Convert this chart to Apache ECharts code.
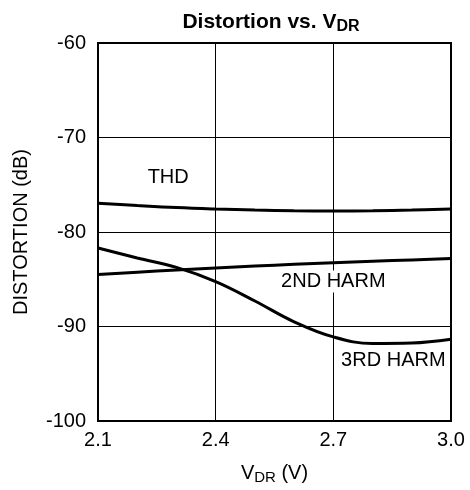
<!DOCTYPE html>
<html><head><meta charset="utf-8">
<script src="https://cdn.jsdelivr.net/npm/echarts@6/dist/echarts.min.js"></script>
<style>html,body{margin:0;padding:0;background:#fff}#c{width:470px;height:490px}</style>
</head><body><div id="c"></div>
<script>
const xValues = [2.1, 2.2, 2.3, 2.4, 2.5, 2.6, 2.7, 2.8, 2.9, 3.0];
const thd = [-76.95, -77.2, -77.42, -77.57, -77.68, -77.75, -77.78, -77.75, -77.68, -77.57];
const harm2 = [-84.5, -84.25, -84.02, -83.8, -83.6, -83.42, -83.25, -83.1, -82.95, -82.8];
const harm3 = [-81.7, -82.75, -83.75, -85.25, -87.3, -89.5, -91.1, -91.8, -91.75, -91.35];
const curveLabels = [
  {text: 'THD', x: 2.279, y: -74.25},
  {text: '2ND HARM', x: 2.7, y: -85.25},
  {text: '3RD HARM', x: 2.853, y: -93.55}
];
const xTicks = [2.1, 2.4, 2.7, 3.0];
const yTicks = [-100, -90, -80, -70, -60];

const font = 'Liberation Sans, Arial, sans-serif';
const pair = arr => xValues.map((x, i) => [x, arr[i]]);
const lineSeries = arr => ({
  type: 'line', data: pair(arr), smooth: 0.4, symbol: 'none',
  lineStyle: {color: '#000', width: 3}, z: 3
});

const chart = echarts.init(document.getElementById('c'), null, {renderer: 'canvas'});
chart.setOption({
  animation: false,
  title: {
    text: 'Distortion vs. V{sub|DR}',
    left: 266, top: 5, textAlign: 'center',
    textStyle: {
      fontFamily: font, fontSize: 21, fontWeight: 'bold', color: '#000',
      rich: {sub: {fontFamily: font, fontSize: 16, fontWeight: 'bold', color: '#000', padding: [9, 0, 0, 0]}}
    }
  },
  grid: {left: 98, right: 19, top: 43, bottom: 69, show: true, borderColor: '#000', borderWidth: 2},
  xAxis: {
    type: 'value', min: 2.1, max: 3.0, interval: 0.3,
    name: 'V{sub|DR} (V)', nameLocation: 'middle', nameGap: 40,
    nameTextStyle: {fontFamily: font, fontSize: 20, color: '#000', verticalAlign: 'top',
      rich: {sub: {fontFamily: font, fontSize: 15, color: '#000', padding: [9, 0, 0, 0]}}},
    axisLine: {show: false}, axisTick: {show: false},
    axisLabel: {fontFamily: font, fontSize: 20, color: '#000', margin: 9,
      formatter: v => xTicks.find(t => Math.abs(t - v) < 1e-6)?.toFixed(1) ?? ''},
    splitLine: {show: true, lineStyle: {color: '#000', width: 1}}
  },
  yAxis: {
    type: 'value', min: -100, max: -60, interval: 10,
    name: 'DISTORTION (dB)', nameLocation: 'middle', nameGap: 67, nameRotate: 90,
    nameTextStyle: {fontFamily: font, fontSize: 20, color: '#000'},
    axisLine: {show: false}, axisTick: {show: false},
    axisLabel: {fontFamily: font, fontSize: 20, color: '#000', margin: 12,
      formatter: v => yTicks.includes(Math.round(v)) ? String(Math.round(v)) : ''},
    splitLine: {show: true, lineStyle: {color: '#000', width: 1}}
  },
  series: [
    lineSeries(thd), lineSeries(harm2), lineSeries(harm3),
    {
      type: 'scatter', symbolSize: 0, z: 5, silent: true,
      itemStyle: {opacity: 1},
      data: curveLabels.map(l => ({value: [l.x, l.y], name: l.text})),
      label: {show: true, position: 'inside', formatter: p => p.name,
        fontFamily: font, fontSize: 20, color: '#000', backgroundColor: '#fff', padding: [1, 2]}
    }
  ]
});
</script></body></html>
